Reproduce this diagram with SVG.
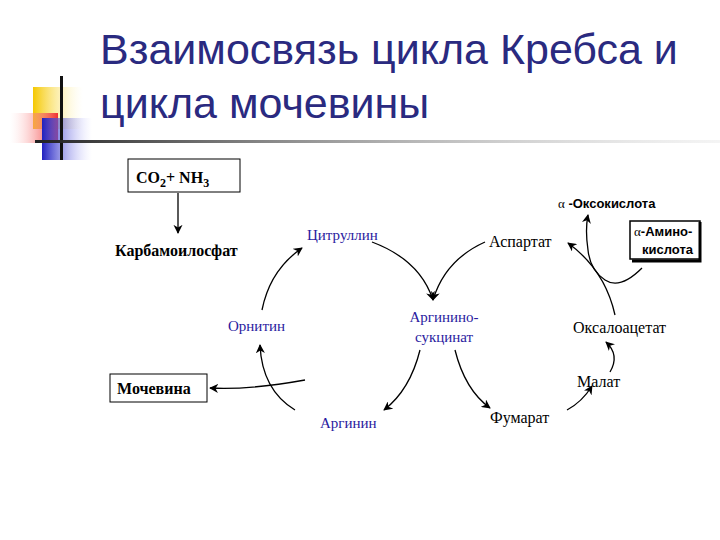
<svg xmlns="http://www.w3.org/2000/svg" width="720" height="540" viewBox="0 0 720 540">
<defs>
<marker id="a" viewBox="0 0 10 10" refX="9" refY="5" markerWidth="7" markerHeight="7" orient="auto-start-reverse"><path d="M0,0 L10,5 L0,10 L3,5z" fill="#000"/></marker>
<linearGradient id="gy" x1="0" x2="1"><stop offset="0" stop-color="#f5c800"/><stop offset="1" stop-color="#fff6c0" stop-opacity="0"/></linearGradient>
<linearGradient id="gr" x1="1" x2="0"><stop offset="0" stop-color="#f03030"/><stop offset="1" stop-color="#ffd0d0" stop-opacity="0"/></linearGradient>
<linearGradient id="gb" x1="0" x2="1"><stop offset="0" stop-color="#2020c0"/><stop offset="1" stop-color="#c0c0ff" stop-opacity="0"/></linearGradient>
<linearGradient id="gl" x1="0" x2="1"><stop offset="0" stop-color="#222"/><stop offset="1" stop-color="#ccc" stop-opacity="0.2"/></linearGradient>
</defs>
<style>
.t{font-family:"Liberation Serif",serif;font-size:16px;fill:#000}
.b{font-family:"Liberation Serif",serif;font-size:16px;font-weight:bold;fill:#000}
.p{font-family:"Liberation Serif",serif;font-size:15px;fill:#2a1aa0}
.s{font-family:"Liberation Sans",sans-serif;font-size:13px;font-weight:bold;fill:#000}
.c{fill:none;stroke:#000;stroke-width:1.3}
</style>
<rect width="720" height="540" fill="#fff"/>
<g id="deco">
<rect x="33" y="87" width="50" height="42" fill="url(#gy)"/>
<rect x="10" y="113" width="48" height="30" fill="url(#gr)"/>
<rect x="42" y="118" width="50" height="42" fill="url(#gb)"/>
<rect x="60" y="76" width="3" height="84" fill="#111"/>
<rect x="35" y="140" width="690" height="3" fill="url(#gl)"/>
</g>
<text x="100" y="64" font-family="Liberation Sans,sans-serif" font-size="43" fill="#2a2a80">Взаимосвязь цикла Кребса и</text>
<text x="100" y="118" font-family="Liberation Sans,sans-serif" font-size="43" fill="#2a2a80">цикла мочевины</text>
<g id="co2"><rect x="128" y="159" width="112" height="33" fill="#fff" stroke="#000"/><text x="136" y="183" class="b" font-weight="normal" font-size="18">CO<tspan font-size="12" dy="4">2</tspan><tspan dy="-4">+  NH</tspan><tspan font-size="12" dy="4">3</tspan></text></g>
<g id="carb"><text x="115" y="256" class="b" font-size="19">Карбамоилосфат</text></g>
<g id="cit"><text x="307" y="240" class="p">Цитруллин</text></g>
<g id="asp"><text x="489" y="247" class="t">Аспартат</text></g>
<g id="orn"><text x="228" y="331" class="p">Орнитин</text></g>
<g id="as"><text x="444" y="322" class="p" text-anchor="middle">Аргинино-</text><text x="444" y="342" class="p" text-anchor="middle">сукцинат</text></g>
<g id="oxa"><text x="573" y="333" class="t">Оксалоацетат</text></g>
<g id="urea"><rect x="110" y="374" width="97" height="28" fill="#fff" stroke="#000"/><text x="117" y="394" class="b" font-size="17">Мочевина</text></g>
<g id="mal"><text x="577" y="387" class="t">Малат</text></g>
<g id="arg"><text x="320" y="428" class="p">Аргинин</text></g>
<g id="fum"><text x="490" y="423" class="t">Фумарат</text></g>
<g id="oxo"><text x="558" y="208" class="s"><tspan font-family="Liberation Serif,serif" font-weight="normal">α</tspan> -Оксокислота</text></g>
<g id="amino"><rect x="630" y="221" width="70" height="38" fill="#fff" stroke="#000" stroke-width="1.5"/><path d="M700,222 V261 H632" fill="none" stroke="#000" stroke-width="3"/><text x="634" y="236" class="s"><tspan font-family="Liberation Serif,serif" font-weight="normal">α</tspan>-Амино-</text><text x="642" y="254" class="s">кислота</text></g>
<g id="conn">
<path class="c" d="M178,193 V233" marker-end="url(#a)"/>
<path class="c" d="M262,310 Q270,270 302,248" marker-end="url(#a)"/>
<path class="c" d="M372,242 Q420,260 433,300" marker-end="url(#a)"/>
<path class="c" d="M485,242 Q445,260 433,300" marker-end="url(#a)"/>
<path class="c" d="M420,350 Q410,390 384,410" marker-end="url(#a)"/>
<path class="c" d="M455,350 Q465,390 490,408" marker-end="url(#a)"/>
<path class="c" d="M295,410 Q262,390 260,345" marker-end="url(#a)"/>
<path class="c" d="M305,380 Q250,390 210,388" marker-end="url(#a)"/>
<path class="c" d="M567,410 Q582,402 592,386" marker-end="url(#a)"/>
<path class="c" d="M610,372 Q620,355 606,342" marker-end="url(#a)"/>
<path class="c" d="M615,315 Q605,270 568,243" marker-end="url(#a)" stroke-width="1.8"/>
<path class="c" d="M642,268 Q620,290 605,280 Q590,270 588,250 Q585,230 588,215" marker-end="url(#a)"/>
</g>
</svg>
